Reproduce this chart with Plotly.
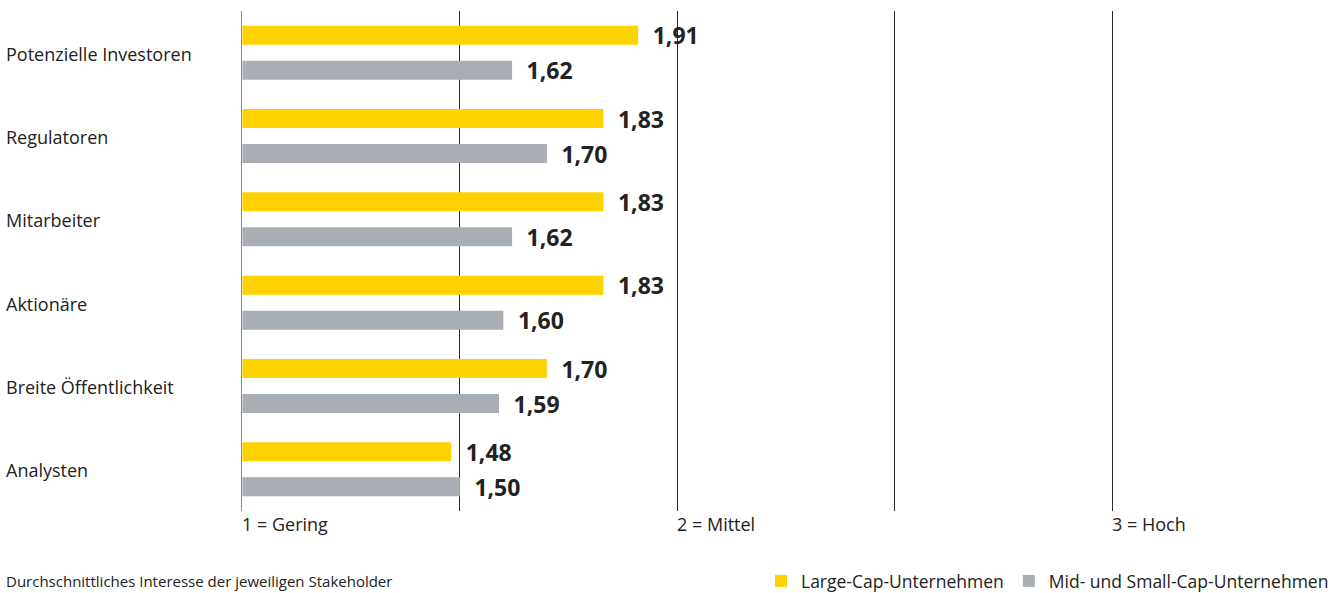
import plotly.graph_objects as go

categories = ["Potenzielle Investoren", "Regulatoren", "Mitarbeiter", "Aktionäre",
              "Breite Öffentlichkeit", "Analysten"]
large_cap = [1.91, 1.83, 1.83, 1.83, 1.70, 1.48]
mid_small_cap = [1.62, 1.70, 1.62, 1.60, 1.59, 1.50]
series_names = ["Large-Cap-Unternehmen", "Mid- und Small-Cap-Unternehmen"]
tick_values = [1, 2, 3]
tick_labels = ["1 = Gering", "2 = Mittel", "3 = Hoch"]
grid_values = [1.5, 2, 2.5, 3]
footer = "Durchschnittliches Interesse der jeweiligen Stakeholder"

YELLOW = "#FDD200"
GREY = "#A8AEB4"
TEXT = "#222222"
FONT = "Open Sans"
BASE = 1
X_MIN, X_MAX = 0.999, 3.05
PLOT_W = 892  # pixel width of plotting area


def de(v):
    return f"{v:.2f}".replace(".", ",")


fig = go.Figure()
for name, vals, col in [(series_names[0], large_cap, YELLOW),
                        (series_names[1], mid_small_cap, GREY)]:
    fig.add_trace(go.Bar(
        y=categories, x=[v - BASE for v in vals], base=BASE, orientation="h", name=name,
        marker=dict(color=col, line=dict(width=0)),
        text=["\u2002" + de(v) for v in vals], textposition="outside",
        constraintext="none",
        textfont=dict(family=FONT, size=23, color=TEXT, weight="bold"),
        cliponaxis=False, hoverinfo="skip",
    ))

annotations = []
for v, lab in zip(tick_values, tick_labels):
    annotations.append(dict(x=v, y=0, xref="x", yref="paper", yshift=-13,
                            text=lab, showarrow=False, xanchor="left", yanchor="middle",
                            xshift=-2,
                            font=dict(family=FONT, size=18, color=TEXT)))
for c in categories:
    annotations.append(dict(x=-238 / PLOT_W, y=c, xref="paper", yref="y", yshift=-1,
                            text=c, showarrow=False, xanchor="left", yanchor="middle",
                            font=dict(family=FONT, size=18, color=TEXT)))
annotations.append(dict(x=-238 / PLOT_W, y=-0.14, xref="paper", yref="paper",
                        text=footer, showarrow=False, xanchor="left", yanchor="middle",
                        font=dict(family=FONT, size=15, color=TEXT)))

fig.update_layout(
    width=1339, height=593,
    margin=dict(l=242, r=1339 - 242 - PLOT_W, t=11, b=82, autoexpand=False),
    paper_bgcolor="white", plot_bgcolor="white",
    barmode="group", bargap=0.16, bargroupgap=0.457,
    font=dict(family=FONT, size=17, color=TEXT),
    xaxis=dict(range=[X_MIN, X_MAX], tickvals=grid_values, showticklabels=False,
               showgrid=True, gridcolor="#2a2a2a", gridwidth=1, zeroline=False,
               showline=False, ticks=""),
    yaxis=dict(autorange="reversed", showticklabels=False, showgrid=False,
               showline=True, linecolor="#8a8a8a", linewidth=1, ticks=""),
    legend=dict(orientation="h", x=(1334 - 242) / PLOT_W, xanchor="right", y=-0.14,
                yanchor="middle",
                font=dict(family=FONT, size=17.5, color=TEXT), traceorder="normal"),
    annotations=annotations,
)

fig.write_html("out.html", config={"displayModeBar": False},
               post_script="document.body.style.margin='0px';")
